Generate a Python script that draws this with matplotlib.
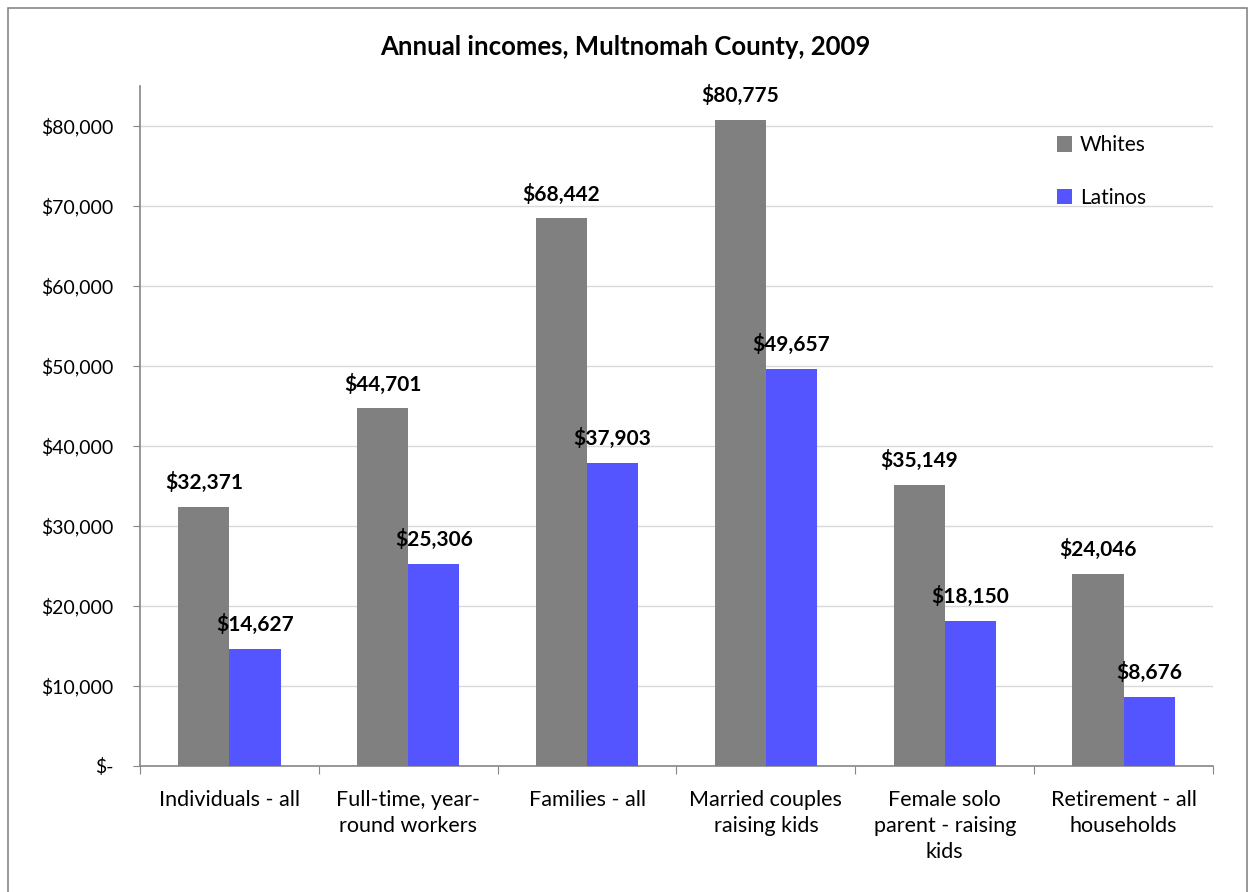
import numpy as np
import matplotlib
matplotlib.use("Agg")
import matplotlib.pyplot as plt
from matplotlib.ticker import FuncFormatter, FixedLocator
from matplotlib.patches import Rectangle

plt.rcParams['font.family'] = ['Lato', 'DejaVu Sans']

# datos
categorias = ["Individuals - all", "Full-time, year-\nround workers", "Families - all",
              "Married couples\nraising kids", "Female solo\nparent - raising\nkids",
              "Retirement - all\nhouseholds"]
whites = [32371, 44701, 68442, 80775, 35149, 24046]
latinos = [14627, 25306, 37903, 49657, 18150, 8676]

gris = "#808080"
azul = "#5555ff"

fig = plt.figure(figsize=(12.5, 8.92), dpi=100)
ax = fig.add_axes([0.112, 0.1413, 0.8584, 0.7623])

# marco exterior
fig.patches.append(Rectangle((8/1250, -0.01), 1239/1250, 1 - 8/892 + 0.01, transform=fig.transFigure,
                             fill=False, edgecolor="#868686", linewidth=1.2))

x = np.arange(len(categorias))
w = 0.286
b1 = ax.bar(x - w/2, whites, w, color=gris, label="Whites", zorder=3)
b2 = ax.bar(x + w/2, latinos, w, color=azul, label="Latinos", zorder=3)

def fmt(v, pos=None):
    return "$-" if v == 0 else f"${v:,.0f}"

for barras in (b1, b2):
    for r in barras:
        ax.annotate(fmt(r.get_height()), (r.get_x() + r.get_width()/2, r.get_height()),
                    xytext=(0, 10), textcoords="offset points", ha="center", va="bottom",
                    fontsize=15, fontweight="bold", zorder=4)

ax.set_xlim(-0.5, len(categorias) - 0.5)
ax.set_ylim(0, 85000)
ax.yaxis.set_major_locator(FixedLocator(np.arange(0, 80001, 10000)))
ax.yaxis.set_major_formatter(FuncFormatter(fmt))
ax.grid(axis="y", color="#d9d9d9", linewidth=1, zorder=0)

# marcas en los bordes de categoría, etiquetas al centro
ax.set_xticks(np.arange(-0.5, len(categorias), 1))
ax.set_xticklabels([])
ax.set_xticks(x, minor=True)
ax.set_xticklabels(categorias, minor=True, fontsize=15.5, linespacing=1.38)
ax.tick_params(axis="x", which="minor", length=0, pad=17)
ax.tick_params(axis="x", which="major", length=6, color="#868686", direction="out")
ax.tick_params(axis="y", length=5, color="#868686", labelsize=14, pad=14)

for s in ("top", "right"):
    ax.spines[s].set_visible(False)
for s in ("left", "bottom"):
    ax.spines[s].set_color("#868686")
    ax.spines[s].set_linewidth(1.2)

fig.text(0.5, 1 - 47/892, "Annual incomes, Multnomah County, 2009", ha="center", va="center",
         fontsize=18.5, fontweight="bold")

ax.legend(loc="upper left", bbox_to_anchor=(0.837, 0.955), frameon=False, fontsize=15,
          handlelength=0.75, handleheight=0.75, handletextpad=0.35, labelspacing=1.55)

fig.savefig("out.png", dpi=100)
